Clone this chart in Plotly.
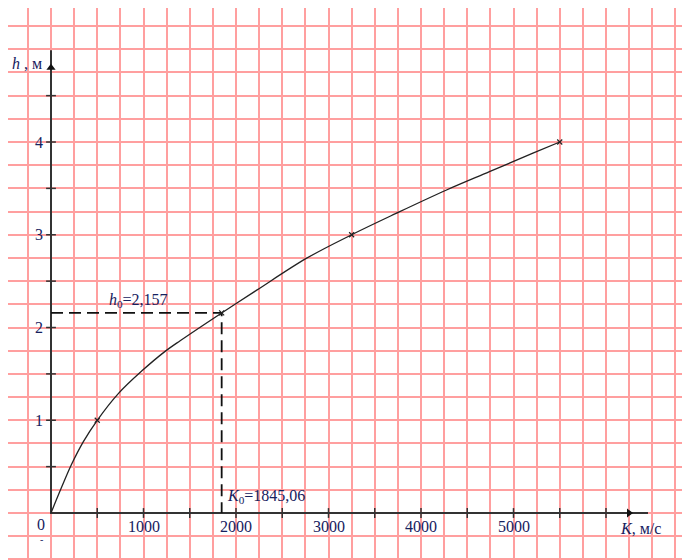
import plotly.graph_objects as go

# ---- data ----
K_vals = [0, 120, 220, 350, 500, 730, 980, 1230, 1400, 1845.06, 2220, 2760, 3250, 3730, 4270, 4740, 5210, 5500]
h_vals = [0, 0.29, 0.52, 0.77, 1.0, 1.29, 1.53, 1.74, 1.86, 2.157, 2.40, 2.745, 3.0, 3.23, 3.48, 3.68, 3.88, 4.0]

K_marks = [500, 1845.06, 3250, 5500]
h_marks = [1.0, 2.157, 3.0, 4.0]

K0 = 1845.06
h0 = 2.157

x_tick_vals = [500, 1000, 1500, 2000, 2500, 3000, 3500, 4000, 4500, 5000, 5500, 6000]
y_tick_vals = [0.5, 1.0, 1.5, 2.0, 2.5, 3.0, 3.5, 4.0, 4.5]
x_label_vals = [1000, 2000, 3000, 4000, 5000]
x_label_text = ["1000", "2000", "3000", "4000", "5000"]
y_label_vals = [1, 2, 3, 4]
y_label_text = ["1", "2", "3", "4"]

x_axis_end = 6454
y_axis_end = 4.99
x_arrow_pos = 6249
y_arrow_pos = 4.80

FONT = "Liberation Serif"
TXT = "#16215e"
AX = "#333333"

fig = go.Figure()

# axes lines
fig.add_trace(go.Scatter(x=[0, 0, x_axis_end], y=[y_axis_end, 0, 0], mode="lines",
                         line=dict(color=AX, width=2), hoverinfo="skip"))
# ticks
fig.add_trace(go.Scatter(x=x_tick_vals, y=[0] * len(x_tick_vals), mode="markers",
                         marker=dict(symbol="line-ns", size=7, line=dict(color=AX, width=1.5)),
                         hoverinfo="skip"))
fig.add_trace(go.Scatter(x=[0] * len(y_tick_vals), y=y_tick_vals, mode="markers",
                         marker=dict(symbol="line-ew", size=7, line=dict(color=AX, width=1.5)),
                         hoverinfo="skip"))
# arrows
fig.add_trace(go.Scatter(x=[0], y=[y_arrow_pos], mode="markers",
                         marker=dict(symbol="triangle-up", size=8, color="#111"), hoverinfo="skip"))
fig.add_trace(go.Scatter(x=[x_arrow_pos], y=[0], mode="markers",
                         marker=dict(symbol="triangle-right", size=8, color="#111"), hoverinfo="skip"))
# dashed guide lines
fig.add_trace(go.Scatter(x=[0, K0, K0], y=[h0, h0, 0], mode="lines",
                         line=dict(color="#111", width=1.8, dash="12px,6px"), hoverinfo="skip"))
# curve
fig.add_trace(go.Scatter(x=K_vals, y=h_vals, mode="lines",
                         line=dict(color="#222", width=1.3, shape="spline", smoothing=1.0)))
fig.add_trace(go.Scatter(x=K_marks, y=h_marks, mode="markers",
                         marker=dict(symbol="x-thin", size=5, line=dict(color="#222", width=1.2))))

FS = 16
ann = []
for v, t in zip(x_label_vals, x_label_text):
    ann.append(dict(x=v, y=0, text=t, xanchor="center", yanchor="top", yshift=-3,
                    showarrow=False, font=dict(family=FONT, size=FS, color=TXT)))
ann.append(dict(x=0, y=0, text="0", xanchor="right", yanchor="top", xshift=-4, yshift=-1,
                showarrow=False, font=dict(family=FONT, size=FS, color=TXT)))
ann.append(dict(x=-108, y=-0.29, text="-", xanchor="center", yanchor="middle",
                showarrow=False, font=dict(family=FONT, size=10, color=TXT)))
for v, t in zip(y_label_vals, y_label_text):
    ann.append(dict(x=0, y=v, text=t, xanchor="right", yanchor="middle", xshift=-6,
                    showarrow=False, font=dict(family=FONT, size=FS, color=TXT)))
ann.append(dict(x=-443, y=4.85, text="<i>h</i> , м", xanchor="left", yanchor="middle",
                showarrow=False, font=dict(family=FONT, size=FS, color=TXT)))
ann.append(dict(x=600, y=2.286, text="<i>h</i><sub>0</sub>=2,157", xanchor="left", yanchor="middle",
                showarrow=False, font=dict(family=FONT, size=FS, color=TXT)))
ann.append(dict(x=1880, y=0.18, text="<i>K</i><sub>0</sub>=1845,06", xanchor="left", yanchor="middle",
                showarrow=False, font=dict(family=FONT, size=FS, color=TXT)))
ann.append(dict(x=6130, y=-0.162, text="<i>K</i>, м/с", xanchor="left", yanchor="middle",
                showarrow=False, font=dict(family=FONT, size=FS, color=TXT)))

GRID = "#ff9f9f"
# the page body has an 8px margin, so the axis ranges are offset to place the origin as in the reference
fig.update_layout(
    width=690, height=560,
    margin=dict(l=0, r=0, t=0, b=0),
    paper_bgcolor="white", plot_bgcolor="white",
    showlegend=False,
    annotations=ann,
    xaxis=dict(range=[-464.9, 6994.6], tick0=0, dtick=250, showgrid=True, gridcolor=GRID, gridwidth=2,
               zeroline=False, showticklabels=False, ticks="", showline=False, fixedrange=True),
    yaxis=dict(range=[-0.593, 5.445], tick0=0, dtick=0.25, showgrid=True, gridcolor=GRID, gridwidth=2,
               zeroline=False, showticklabels=False, ticks="", showline=False, fixedrange=True),
)

fig.write_html("out.html")
